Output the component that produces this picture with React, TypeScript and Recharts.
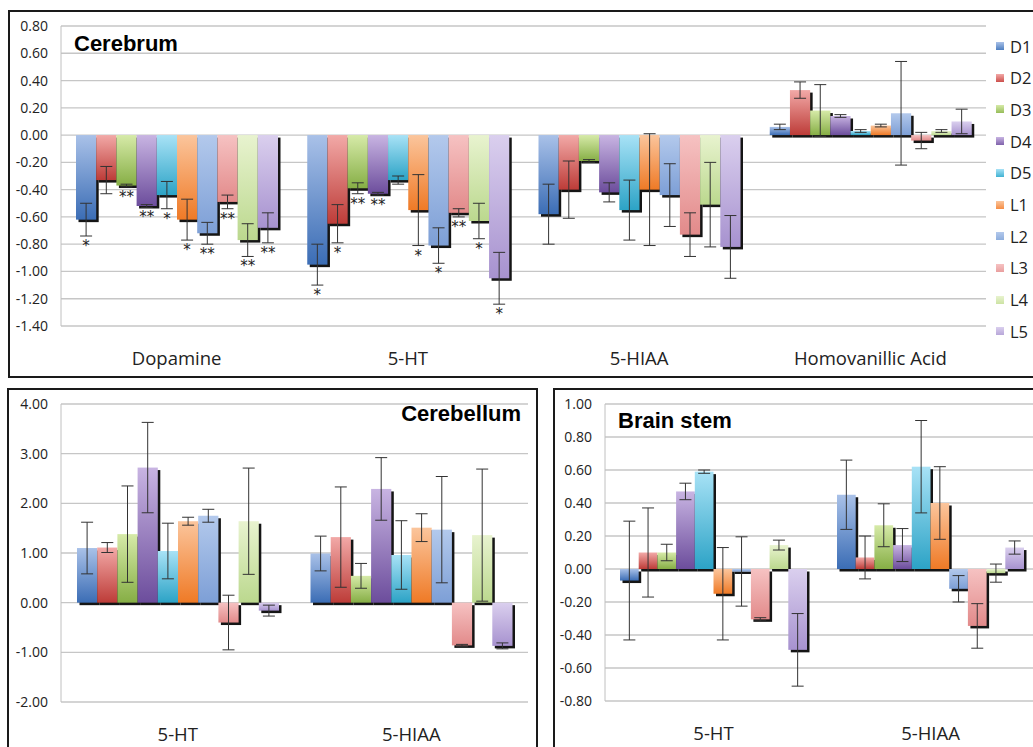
import React from 'react';
import { BarChart, Bar, XAxis, YAxis, CartesianGrid, ErrorBar, LabelList } from 'recharts';

const SERIES = ['D1', 'D2', 'D3', 'D4', 'D5', 'L1', 'L2', 'L3', 'L4', 'L5'];
const GRAD_TOP = ['#a9c1e8', '#f2a9a7', '#d6eaa8', '#c8b4e2', '#a8e2f6', '#fbc59c', '#b3c9ec', '#f6c2c2', '#e8f3cf', '#dacfee'];
const GRAD_BOTTOM = ['#3b6db5', '#bd3c38', '#86ae45', '#6c4d9c', '#2ca3c6', '#ef7a26', '#7d9fd6', '#e28a8a', '#bbd88e', '#a792cf'];
const LEGEND_COLORS = ['#4f7fc0', '#cc4f4c', '#97bd5a', '#7f62ab', '#41b2d2', '#f58d45', '#8eaedd', '#e99f9f', '#cce3a3', '#b8a7d9'];

// Cerebrum
const CEREBRUM_CATS = ['Dopamine', '5-HT', '5-HIAA', 'Homovanillic Acid'];
const CEREBRUM_DOPAMINE = [-0.62, -0.33, -0.37, -0.52, -0.44, -0.62, -0.72, -0.49, -0.77, -0.68];
const CEREBRUM_DOPAMINE_ERR = [0.12, 0.1, 0.01, 0.01, 0.1, 0.15, 0.08, 0.05, 0.12, 0.11];
const CEREBRUM_DOPAMINE_SIG = ['*', '', '**', '**', '*', '*', '**', '**', '**', '**'];
const CEREBRUM_5HT = [-0.95, -0.65, -0.39, -0.43, -0.33, -0.55, -0.81, -0.57, -0.63, -1.05];
const CEREBRUM_5HT_ERR = [0.15, 0.14, 0.04, 0.01, 0.03, 0.26, 0.13, 0.03, 0.13, 0.19];
const CEREBRUM_5HT_SIG = ['*', '*', '**', '**', '', '*', '*', '**', '*', '*'];
const CEREBRUM_5HIAA = [-0.58, -0.4, -0.19, -0.42, -0.55, -0.4, -0.44, -0.73, -0.51, -0.82];
const CEREBRUM_5HIAA_ERR = [0.22, 0.21, 0.01, 0.07, 0.22, 0.41, 0.23, 0.16, 0.31, 0.23];
const CEREBRUM_HVA = [0.06, 0.33, 0.18, 0.14, 0.03, 0.07, 0.16, -0.04, 0.03, 0.1];
const CEREBRUM_HVA_ERR = [0.02, 0.06, 0.19, 0.01, 0.01, 0.01, 0.38, 0.06, 0.01, 0.09];
const CEREBRUM_TICKS = [0.8, 0.6, 0.4, 0.2, 0, -0.2, -0.4, -0.6, -0.8, -1.0, -1.2, -1.4];

// Cerebellum
const CEREBELLUM_CATS = ['5-HT', '5-HIAA'];
const CEREBELLUM_5HT = [1.1, 1.11, 1.38, 2.72, 1.04, 1.64, 1.75, -0.4, 1.64, -0.16];
const CEREBELLUM_5HT_ERR = [0.52, 0.1, 0.97, 0.91, 0.56, 0.08, 0.13, 0.55, 1.07, 0.11];
const CEREBELLUM_5HIAA = [0.99, 1.32, 0.54, 2.29, 0.96, 1.51, 1.47, -0.86, 1.36, -0.87];
const CEREBELLUM_5HIAA_ERR = [0.35, 1.01, 0.25, 0.63, 0.69, 0.28, 1.07, 0.02, 1.33, 0.06];
const CEREBELLUM_TICKS = [4, 3, 2, 1, 0, -1, -2];

// Brain stem
const BRAINSTEM_CATS = ['5-HT', '5-HIAA'];
const BRAINSTEM_5HT = [-0.07, 0.1, 0.1, 0.47, 0.59, -0.15, -0.015, -0.305, 0.145, -0.49];
const BRAINSTEM_5HT_ERR = [0.36, 0.27, 0.05, 0.05, 0.01, 0.28, 0.21, 0.01, 0.03, 0.22];
const BRAINSTEM_5HIAA = [0.45, 0.07, 0.265, 0.145, 0.62, 0.4, -0.12, -0.345, -0.025, 0.13];
const BRAINSTEM_5HIAA_ERR = [0.21, 0.13, 0.13, 0.1, 0.28, 0.22, 0.08, 0.135, 0.055, 0.04];
const BRAINSTEM_TICKS = [1, 0.8, 0.6, 0.4, 0.2, 0, -0.2, -0.4, -0.6, -0.8];

const TICK_FONT = "'Open Sans', 'Noto Sans', sans-serif";
const TITLE_FONT = "'Liberation Sans', Arial, sans-serif";

function buildRows(cats: string[], values: number[][], errs: number[][], sigs?: string[][]) {
  return cats.map((name, c) => {
    const row: any = { name };
    SERIES.forEach((s, i) => {
      row[s] = values[c][i];
      row[s + '_err'] = errs[c][i];
      row[s + '_sig'] = sigs && sigs[c] ? sigs[c][i] : '';
    });
    return row;
  });
}

const cerebrumRows = buildRows(
  CEREBRUM_CATS,
  [CEREBRUM_DOPAMINE, CEREBRUM_5HT, CEREBRUM_5HIAA, CEREBRUM_HVA],
  [CEREBRUM_DOPAMINE_ERR, CEREBRUM_5HT_ERR, CEREBRUM_5HIAA_ERR, CEREBRUM_HVA_ERR],
  [CEREBRUM_DOPAMINE_SIG, CEREBRUM_5HT_SIG],
);
const cerebellumRows = buildRows(CEREBELLUM_CATS, [CEREBELLUM_5HT, CEREBELLUM_5HIAA], [CEREBELLUM_5HT_ERR, CEREBELLUM_5HIAA_ERR]);
const brainstemRows = buildRows(BRAINSTEM_CATS, [BRAINSTEM_5HT, BRAINSTEM_5HIAA], [BRAINSTEM_5HT_ERR, BRAINSTEM_5HIAA_ERR]);

// bar with vertical gradient and a hard offset shadow (right + bottom)
const makeShape = (gradId: string) => (props: any) => {
  const { x, y, width, height } = props;
  if (!width || !height) return <g />;
  const top = height < 0 ? y + height : y;
  const h = Math.abs(height);
  return (
    <g>
      <rect x={x + 2.5} y={top + 2.5} width={width} height={h} fill="#151515" />
      <rect x={x} y={top} width={width} height={h} fill={`url(#${gradId})`} />
    </g>
  );
};

// significance stars placed under the error bar
const makeStars = (rows: any[], s: string) => (props: any) => {
  const { x, y, width, height, index } = props;
  const row = rows[index];
  const sig = row ? row[s + '_sig'] : '';
  if (!sig || !height) return null;
  const v = row[s];
  const pxPerUnit = Math.abs(height) / Math.abs(v);
  const bottom = Math.max(y, y + height);
  const end = bottom + row[s + '_err'] * pxPerUnit;
  return (
    <text x={x + width / 2} y={end + 15} textAnchor="middle" fontSize={15} fontFamily="'DejaVu Sans', sans-serif" fill="#222">
      {sig}
    </text>
  );
};

interface PanelProps {
  id: string;
  rows: any[];
  domain: [number, number];
  ticks: number[];
  width: number;
  height: number;
  margin: { top: number; right: number; bottom: number; left: number };
  yWidth: number;
  barSize: number;
  stars?: boolean;
}

function Panel({ id, rows, domain, ticks, width, height, margin, yWidth, barSize, stars }: PanelProps) {
  return (
    <BarChart width={width} height={height} data={rows} margin={margin} barGap={0} barSize={barSize}>
      <defs>
        {SERIES.map((s, i) => (
          <linearGradient key={s} id={`${id}-${s}`} x1="0" y1="0" x2="0" y2="1">
            <stop offset="0%" stopColor={GRAD_TOP[i]} />
            <stop offset="100%" stopColor={GRAD_BOTTOM[i]} />
          </linearGradient>
        ))}
      </defs>
      <CartesianGrid vertical={false} stroke="#c6c6c6" strokeWidth={1.3} />
      <XAxis
        dataKey="name"
        axisLine={false}
        tickLine={false}
        height={40}
        tickMargin={20}
        interval={0}
        tick={{ fontSize: 18.5, fill: '#222', fontFamily: TICK_FONT }}
      />
      <YAxis
        domain={domain}
        ticks={ticks}
        width={yWidth}
        interval={0}
        axisLine={{ stroke: '#c0c0c0' }}
        tickLine={false}
        tickMargin={7}
        tickFormatter={(v: number) => v.toFixed(2)}
        tick={{ fontSize: 14, fill: '#222', fontFamily: TICK_FONT }}
      />
      {SERIES.map((s) => (
        <Bar key={s} dataKey={s} shape={makeShape(`${id}-${s}`)} isAnimationActive={false}>
          <ErrorBar dataKey={s + '_err'} width={6} stroke="#333" strokeWidth={1} direction="y" isAnimationActive={false} />
          {stars && <LabelList dataKey={s} content={makeStars(rows, s)} />}
        </Bar>
      ))}
    </BarChart>
  );
}

const titleStyle: React.CSSProperties = {
  position: 'absolute',
  fontFamily: TITLE_FONT,
  fontWeight: 'bold',
  fontSize: 22,
  lineHeight: '22px',
  color: '#000',
  whiteSpace: 'nowrap',
};

const borderStyle: React.CSSProperties = {
  position: 'absolute',
  border: '2px solid #1a1a1a',
  boxSizing: 'border-box',
};

export default function App() {
  return (
    <div style={{ position: 'fixed', left: 0, top: 0, width: 1033, height: 747, overflow: 'hidden', background: '#fff' }}>
      {/* Cerebrum */}
      <div style={{ position: 'absolute', left: 8, top: 10 }}>
        <Panel
          id="cb"
          rows={cerebrumRows}
          domain={[-1.4, 0.8]}
          ticks={CEREBRUM_TICKS}
          width={1040}
          height={367}
          margin={{ top: 16, right: 62, bottom: 11, left: 0 }}
          yWidth={53}
          barSize={20.2}
          stars
        />
      </div>
      <div style={{ ...borderStyle, left: 8, top: 10, width: 1060, height: 368 }} />
      <div style={{ ...titleStyle, left: 74, top: 33 }}>Cerebrum</div>
      <div style={{ position: 'absolute', left: 996, top: 38 }}>
        {SERIES.map((s, i) => (
          <div key={s} style={{ position: 'absolute', left: 0, top: i * 31.7, height: 16, display: 'flex', alignItems: 'center', whiteSpace: 'nowrap' }}>
            <span style={{ width: 8, height: 8, background: `linear-gradient(${GRAD_TOP[i]}, ${LEGEND_COLORS[i]})`, display: 'inline-block' }} />
            <span style={{ marginLeft: 6, fontFamily: TICK_FONT, fontSize: 16.5, color: '#222' }}>{s}</span>
          </div>
        ))}
      </div>

      {/* Cerebellum */}
      <div style={{ position: 'absolute', left: 8, top: 389 }}>
        <Panel
          id="cl"
          rows={cerebellumRows}
          domain={[-2, 4]}
          ticks={CEREBELLUM_TICKS}
          width={529}
          height={370}
          margin={{ top: 15, right: 9, bottom: 17, left: 0 }}
          yWidth={53}
          barSize={20.2}
        />
      </div>
      <div style={{ ...borderStyle, left: 7, top: 388, width: 531, height: 400 }} />
      <div style={{ ...titleStyle, right: 1033 - 521, top: 403 }}>Cerebellum</div>

      {/* Brain stem */}
      <div style={{ position: 'absolute', left: 554, top: 389 }}>
        <Panel
          id="bs"
          rows={brainstemRows}
          domain={[-0.8, 1.0]}
          ticks={BRAINSTEM_TICKS}
          width={500}
          height={370}
          margin={{ top: 15, right: 15, bottom: 18, left: 0 }}
          yWidth={51}
          barSize={18.7}
        />
      </div>
      <div style={{ ...borderStyle, left: 553, top: 388, width: 600, height: 400 }} />
      <div style={{ ...titleStyle, left: 618, top: 410 }}>Brain stem</div>
    </div>
  );
}
